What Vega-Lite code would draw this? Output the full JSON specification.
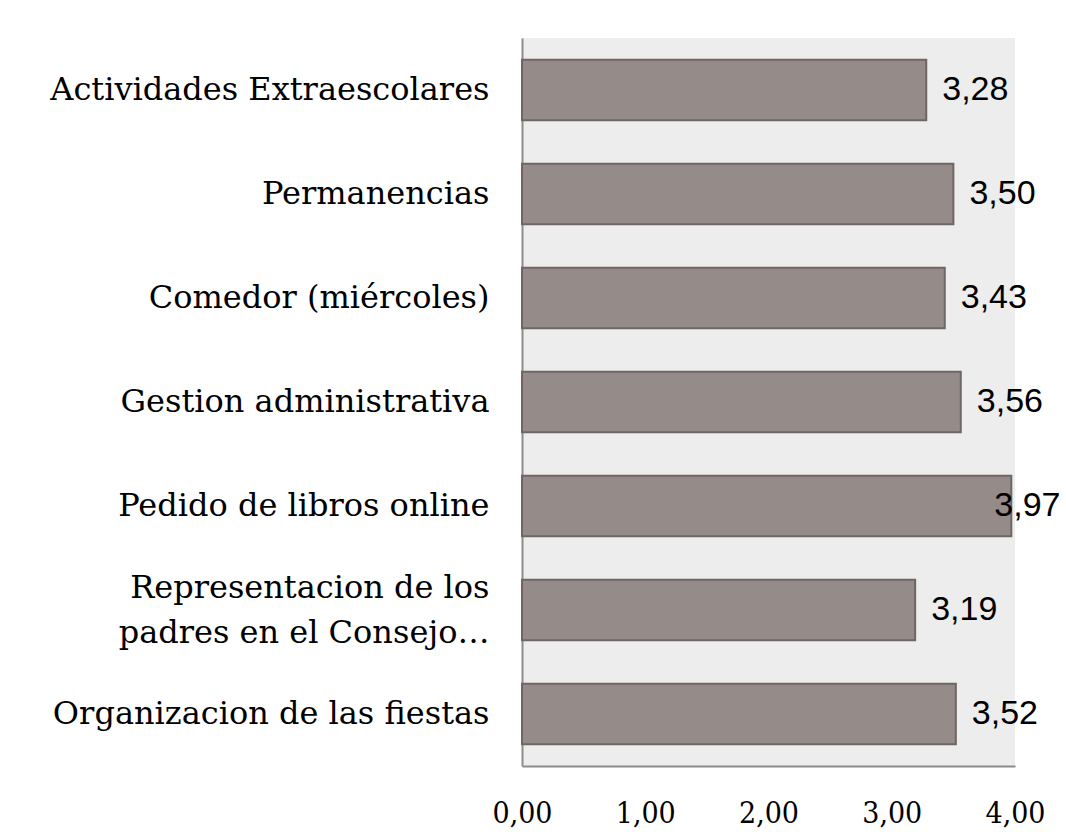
{
  "$schema": "https://vega.github.io/schema/vega-lite/v6.json",
  "autosize": "none",
  "width": 493,
  "height": 728,
  "padding": {"left": 522, "top": 38, "right": 51, "bottom": 66},
  "background": "white",
  "config": {
    "view": {"fill": "#ededed", "stroke": null},
    "font": "DejaVu Serif",
    "locale": {"number": {"decimal": ",", "thousands": ".", "grouping": [3], "currency": ["", " €"]}}
  },
  "data": {
    "values": [
      {"item": "Actividades Extraescolares", "value": 3.28},
      {"item": "Permanencias", "value": 3.50},
      {"item": "Comedor (miércoles)", "value": 3.43},
      {"item": "Gestion administrativa", "value": 3.56},
      {"item": "Pedido de libros online", "value": 3.97},
      {"item": "Representacion de los|padres en el Consejo…", "value": 3.19},
      {"item": "Organizacion de las fiestas", "value": 3.52}
    ]
  },
  "encoding": {
    "y": {
      "field": "item",
      "type": "nominal",
      "sort": null,
      "scale": {"paddingInner": 0.42, "paddingOuter": 0.21},
      "axis": {
        "title": null,
        "ticks": false,
        "domainColor": "#8c8c8c",
        "domainWidth": 2,
        "labelFont": "DejaVu Serif",
        "labelFontSize": 32,
        "labelColor": "black",
        "labelPadding": 33,
        "labelLimit": 520,
        "labelLineHeight": 45,
        "labelOffset": {"condition": {"test": "indexof(datum.value, '|') >= 0", "value": -22}, "value": 0},
        "labelExpr": "split(datum.value, '|')"
      }
    },
    "x": {
      "field": "value",
      "type": "quantitative",
      "scale": {"domain": [0, 4], "nice": false},
      "axis": {
        "title": null,
        "values": [0, 1, 2, 3, 4],
        "format": ".2f",
        "grid": false,
        "ticks": false,
        "domainColor": "#8c8c8c",
        "domainWidth": 2,
        "labelFont": "DejaVu Serif Condensed",
        "labelFontSize": 30,
        "labelColor": "black",
        "labelPadding": 32,
        "labelFlush": false
      }
    }
  },
  "layer": [
    {
      "mark": {"type": "bar", "color": "#958b89", "stroke": "#6e6664", "strokeWidth": 2}
    },
    {
      "transform": [{"filter": "datum.value < 3.9"}],
      "mark": {"type": "text", "align": "left", "baseline": "middle", "dx": 16, "fontSize": 34, "color": "black", "font": "Liberation Sans"},
      "encoding": {"text": {"field": "value", "type": "quantitative", "format": ".2f"}}
    },
    {
      "transform": [{"filter": "datum.value >= 3.9"}],
      "mark": {"type": "text", "align": "left", "baseline": "middle", "dx": -17, "fontSize": 34, "color": "black", "font": "Liberation Sans"},
      "encoding": {"text": {"field": "value", "type": "quantitative", "format": ".2f"}}
    }
  ]
}
